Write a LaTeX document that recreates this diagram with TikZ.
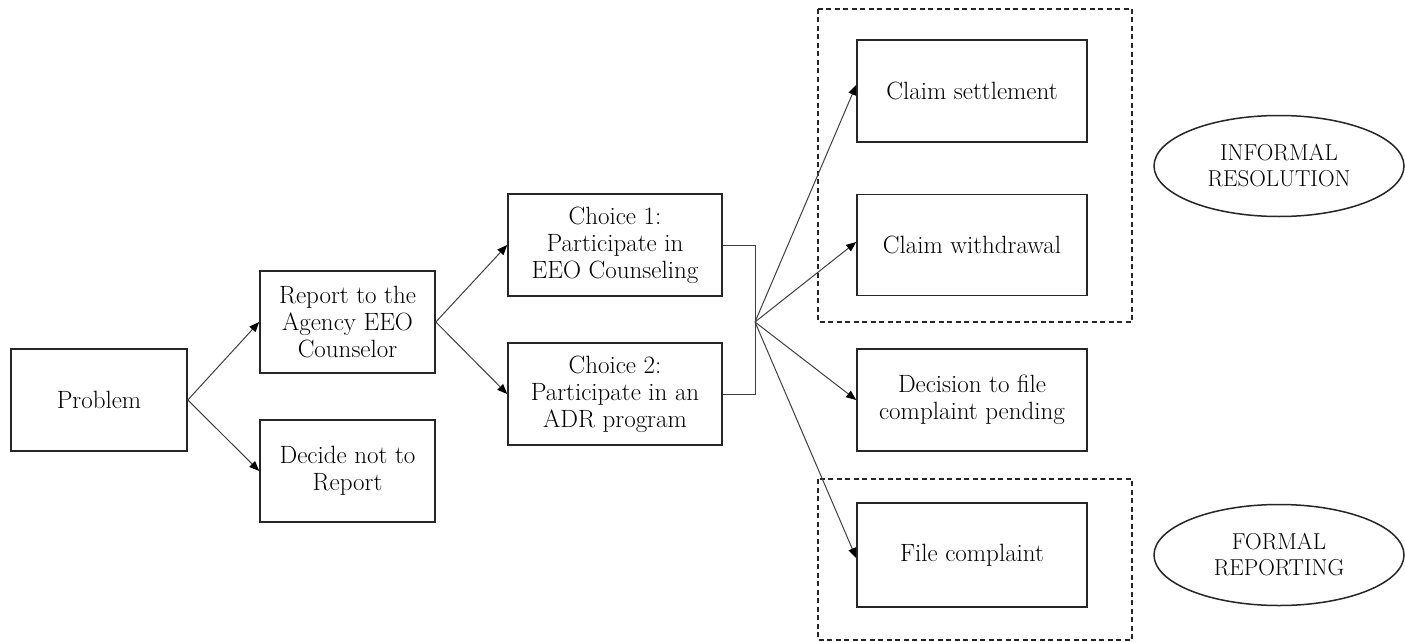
\documentclass[tikz,border=0pt]{standalone}
\usetikzlibrary{arrows.meta,shapes.geometric}
\begin{document}
\begin{tikzpicture}[x=1pt,y=-1pt,
  box/.style={draw=black!85,line width=1.6pt,minimum width=#1,align=center,inner sep=0pt,font=\fontsize{25}{27}\selectfont},
  box/.default=175pt,
  oval/.style={draw=black!85,ellipse,line width=1.5pt,minimum width=250pt,minimum height=101pt,align=center,inner sep=0pt,font=\fontsize{23}{26}\selectfont},
  conn/.style={draw=black!75,line width=1pt},
  arr/.style={conn,-{Triangle[length=10pt,width=8pt,color=black]}},
  dashbox/.style={draw=black!85,line width=1.5pt,dash pattern=on 5pt off 3.5pt}]
\useasboundingbox (0,0) rectangle (1405,642);
\fill[white] (0,0) rectangle (1405,642);
% left column
\node[box=176pt,minimum height=102pt] (prob) at (99,400) {Problem};
\node[box=175pt,minimum height=102pt] (rep) at (347.5,322) {Report to the\\Agency EEO\\Counselor};
\node[box=175pt,minimum height=102pt] (dec) at (347.5,471) {Decide not to\\Report};
\node[box=214pt,minimum height=102pt] (c1) at (615,245) {Choice 1:\\Participate in\\EEO Counseling};
\node[box=214pt,minimum height=102pt] (c2) at (615,394) {Choice 2:\\Participate in an\\ADR program};
% right column
\node[box=230pt,minimum height=102pt] (set) at (972,91) {Claim settlement};
\node[box=230pt,minimum height=101pt] (wd) at (972,245) {Claim withdrawal};
\node[box=230pt,minimum height=102pt] (pend) at (972,400) {Decision to file\\complaint pending};
\node[box=230pt,minimum height=104pt] (file) at (972,555) {File complaint};
% groups
\draw[dashbox] (818,9) rectangle (1132,322);
\draw[dashbox] (818,479) rectangle (1132,640);
\node[oval] (inf) at (1279,166) {INFORMAL\\RESOLUTION};
\node[oval] (form) at (1279,555) {FORMAL\\REPORTING};
% connectors
\coordinate (J) at (755,322);
\draw[arr] (prob.east) -- (rep.west);
\draw[arr] (prob.east) -- (dec.west);
\draw[arr] (rep.east) -- (c1.west);
\draw[arr] (rep.east) -- (c2.west);
\draw[conn] (c1.east) -| (J) |- (c2.east);
\draw[arr] (J) -- ([yshift=6pt]set.west);
\draw[arr] (J) -- ([yshift=3pt]wd.west);
\draw[arr] (J) -- (pend.west);
\draw[arr] (J) -- ([yshift=-3pt]file.west);
\end{tikzpicture}
\end{document}
